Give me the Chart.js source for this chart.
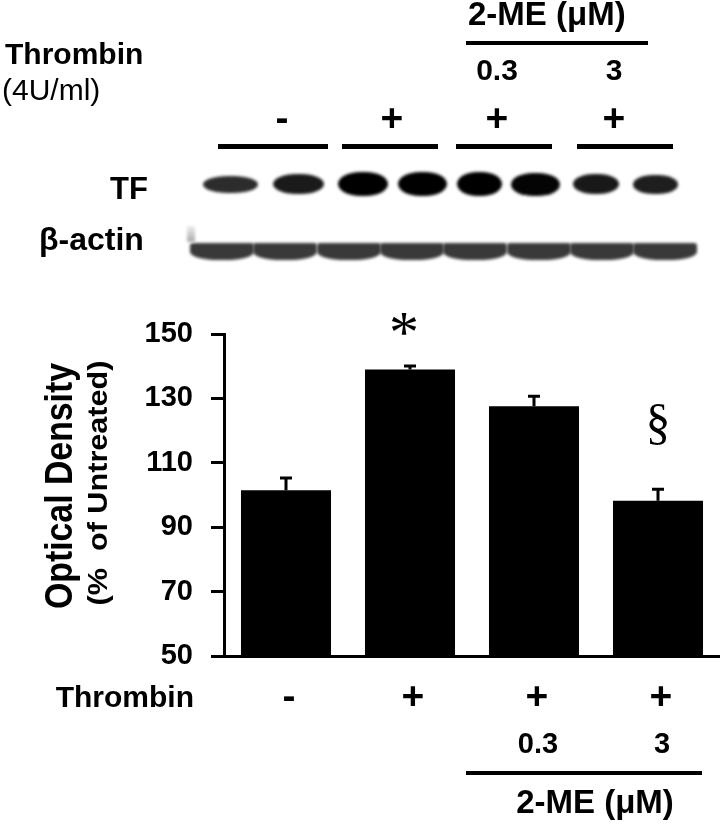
<!DOCTYPE html>
<html lang="en">
  <head>
    <style>
      body { margin: 0; background: #fff; }
      #fig { position: relative; width: 720px; height: 824px; font-family: "Liberation Sans", Arial, sans-serif; color: #000; }
      #fig canvas { position: absolute; left: 0; top: 0; }
      .t { position: absolute; line-height: 1; white-space: nowrap; }
      .b { font-weight: bold; }
      .rule { position: absolute; background: #000; }
      .band { position: absolute; filter: blur(1.4px); }
    </style>
  </head>
  <body>
    <div id="fig">
      <canvas id="myChart" width="720" height="824"></canvas>
      <!-- western blot panel -->
      <div class="t b" style="left: 5px; top: 39px; font-size: 30px">Thrombin</div>
      <div class="t" style="left: 2px; top: 75px; font-size: 30px">(4U/ml)</div>
      <div class="t b" style="left: 468px; top: -3px; font-size: 33px">2-ME (μM)</div>
      <div class="rule" style="left: 466px; top: 41px; width: 182px; height: 4px"></div>
      <div id="topDose"></div>
      <div id="topSign"></div>
      <div id="laneRules"></div>
      <div class="t b" style="left: 110px; top: 173px; font-size: 31px">TF</div>
      <div class="t b" style="left: 39px; top: 223px; font-size: 32px">β-actin</div>
      <div id="blot"></div>
    </div>

    <script src="https://cdn.jsdelivr.net/npm/chart.js@4.4.0/dist/chart.umd.min.js"></script>
    <script>
      // bar chart data (% of untreated)
      var groups = ["control", "thrombin", "thrombin + 2-ME 0.3", "thrombin + 2-ME 3"];
      var density = [101.5, 139.0, 127.6, 98.2];
      var densityErr = [3.8, 1.1, 3.1, 3.6];
      var thrombinRow = ["-", "+", "+", "+"];
      var meRow = ["", "", "0.3", "3"];
      var marks = ["", "*", "", "§"];
      var markAt = [null, 153, null, 122];
      var yTicks = [50, 70, 90, 110, 130, 150];

      // blot: band strength per lane (2 lanes per group)
      var tfBand = [0.45, 0.68, 1, 1, 1, 0.95, 0.7, 0.62];
      var actinBand = [0.85, 0.85, 0.85, 0.85, 0.85, 0.85, 0.85, 0.85];

      var FONT = "'Liberation Sans', Arial, sans-serif";
      var SERIF = "'Liberation Serif', 'Times New Roman', serif";

      // ---- top panel (blot) layout ----
      var laneLeft = [203, 273, 338, 398, 457, 511, 573, 633];
      var laneWidth = [55, 51, 50, 49, 45, 49, 46, 45];
      var groupRule = [[218, 328], [342, 438], [456, 552], [577, 673]];
      var groupMid = [282, 392, 497, 614];

      function el(parent, cls, css, text) {
        var d = document.createElement("div");
        d.className = cls;
        d.style.cssText = css;
        if (text) d.textContent = text;
        document.getElementById(parent).appendChild(d);
      }

      thrombinRow.forEach(function (s, i) {
        el("topSign", "t b", "left:" + (groupMid[i] - 20) + "px;width:40px;text-align:center;top:98px;font-size:39px", s);
        el("laneRules", "rule", "left:" + groupRule[i][0] + "px;top:144px;height:5px;width:" + (groupRule[i][1] - groupRule[i][0]) + "px", "");
        if (meRow[i]) el("topDose", "t b", "left:" + (groupMid[i] - 40) + "px;width:80px;text-align:center;top:55px;font-size:30px", meRow[i]);
      });

      tfBand.forEach(function (v, i) {
        var h = Math.round(11 + 13 * v);
        var g = Math.round(80 * (1 - v));
        el("blot", "band", "left:" + laneLeft[i] + "px;width:" + laneWidth[i] + "px;top:" + (184 - h / 2) + "px;height:" + h + "px;border-radius:45%/50%;background:rgb(" + g + "," + g + "," + g + ")", "");
      });
      actinBand.forEach(function (v, i) {
        var g = Math.round(110 * (1 - v) + 40);
        el("blot", "band", "left:" + (190 + i * 63.3) + "px;width:64px;top:243px;height:17px;border-radius:3px 3px 45% 45%/3px 3px 8px 8px;background:rgb(" + g + "," + g + "," + g + ")", "");
      });
      el("blot", "band", "left:187px;top:226px;width:8px;height:16px;background:linear-gradient(#eee,#aaa)", "");

      // ---- chart plugins ----
      var errorBars = {
        id: "errorBars",
        afterDatasetsDraw: function (chart) {
          var c = chart.ctx;
          var y = chart.scales.y;
          var meta = chart.getDatasetMeta(0);
          c.save();
          c.strokeStyle = "#000";
          c.lineWidth = 3;
          meta.data.forEach(function (bar, i) {
            var top = y.getPixelForValue(density[i] + densityErr[i]);
            c.beginPath();
            c.moveTo(bar.x, y.getPixelForValue(density[i]));
            c.lineTo(bar.x, top);
            c.moveTo(bar.x - 6, top);
            c.lineTo(bar.x + 6, top);
            c.stroke();
            if (marks[i]) {
              c.font = (marks[i] == "*" ? "60px " : "50px ") + SERIF;
              c.fillStyle = "#000";
              c.textAlign = "center";
              c.textBaseline = "alphabetic";
              var m = c.measureText(marks[i]);
              var cy = y.getPixelForValue(markAt[i]);
              c.fillText(marks[i], bar.x - (marks[i] == "*" ? 6 : 0), cy + (m.actualBoundingBoxAscent - m.actualBoundingBoxDescent) / 2);
            }
          });
          c.restore();
        },
      };

      function stretchText(c, text, x, y, w) {
        var m = c.measureText(text);
        c.save();
        c.translate(x, y);
        c.scale(w / m.width, 1);
        c.fillText(text, 0, 0);
        c.restore();
      }

      var labelsPlugin = {
        id: "labelsPlugin",
        afterDraw: function (chart) {
          var c = chart.ctx;
          var x = chart.scales.x;
          var area = chart.chartArea;
          c.save();
          c.fillStyle = "#000";
          c.textAlign = "center";

          // y title, rotated
          c.save();
          c.translate(72, 486);
          c.rotate(-Math.PI / 2);
          c.textBaseline = "alphabetic";
          c.font = "bold 38px " + FONT;
          stretchText(c, "Optical Density", 0, 0, 246);
          c.font = "bold 28px " + FONT;
          stretchText(c, "(%  of Untreated)", 3, 35, 245);
          c.restore();

          // treatment rows under the bars
          c.textBaseline = "middle";
          c.font = "bold 39px " + FONT;
          thrombinRow.forEach(function (s, i) {
            c.fillText(s, x.getPixelForValue(i) + 3, area.bottom + 42);
          });
          c.textBaseline = "alphabetic";
          c.font = "bold 29px " + FONT;
          meRow.forEach(function (s, i) {
            if (s) c.fillText(s, x.getPixelForValue(i) + 4, area.bottom + 97);
          });
          c.textAlign = "right";
          c.font = "bold 30px " + FONT;
          c.fillText("Thrombin", 194, area.bottom + 51);

          var x0 = x.getPixelForValue(2) - 68;
          var x1 = x.getPixelForValue(3) + 44;
          c.fillRect(x0, area.bottom + 115, x1 - x0, 4);
          c.textAlign = "center";
          c.font = "bold 33px " + FONT;
          c.fillText("2-ME (μM)", (x0 + x1) / 2 + 11, area.bottom + 157);
          c.restore();
        },
      };

      new Chart(document.getElementById("myChart"), {
        type: "bar",
        data: {
          labels: groups,
          datasets: [
            {
              data: density,
              backgroundColor: "#000",
              borderWidth: 0,
              barPercentage: 0.726,
              categoryPercentage: 1,
            },
          ],
        },
        options: {
          responsive: false,
          animation: false,
          layout: { padding: { top: 334, left: 0, right: 0, bottom: 0 } },
          plugins: {
            legend: { display: false },
            tooltip: { enabled: false },
          },
          scales: {
            x: {
              grid: { display: false },
              ticks: { display: false },
              border: { color: "#000", width: 3 },
              afterFit: function (s) {
                s.height = 168;
              },
            },
            y: {
              min: yTicks[0],
              max: yTicks[yTicks.length - 1],
              afterBuildTicks: function (s) {
                s.ticks = yTicks.map(function (v) {
                  return { value: v };
                });
              },
              ticks: {
                color: "#000",
                padding: 18,
                font: { family: FONT, size: 29, weight: "bold" },
              },
              grid: {
                drawOnChartArea: false,
                tickLength: 13,
                tickWidth: 3,
                tickColor: "#000",
              },
              border: { color: "#000", width: 3 },
              afterFit: function (s) {
                s.width = 224;
              },
            },
          },
        },
        plugins: [errorBars, labelsPlugin],
      });
    </script>
  </body>
</html>
